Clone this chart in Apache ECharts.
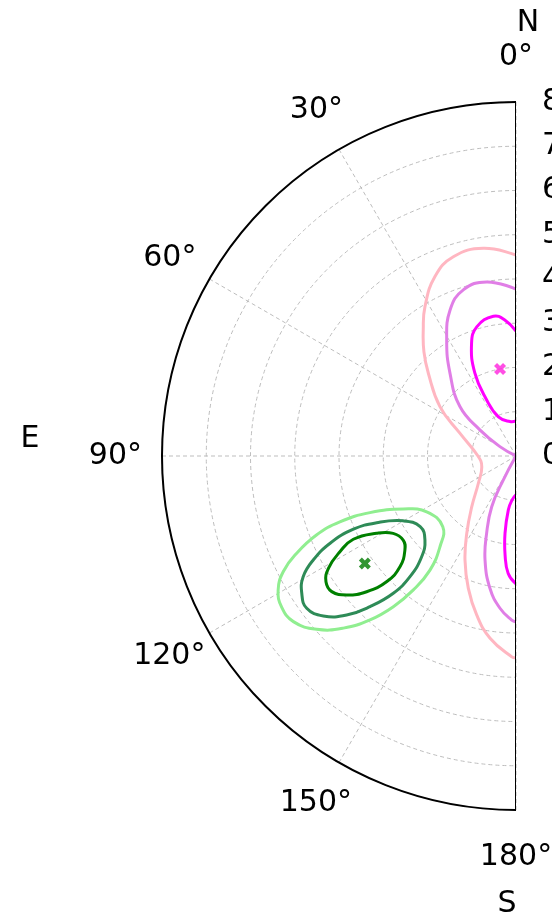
<!DOCTYPE html>
<html>
<head>
<meta charset="UTF-8">
<title>polar-contours</title>
<script src="https://cdn.jsdelivr.net/npm/echarts@6/dist/echarts.min.js"></script>
<style>
html, body { margin: 0; padding: 0; background: #fff; }
#main { width: 552px; height: 917px; }
</style>
</head>
<body>
<div id="main"></div>
<script>
// ticks
var angleTicks = [0, 30, 60, 90, 120, 150, 180];
var radiusMax = 8;

// contour lines, each point is [radius, angle in deg]
var pinkLine = [[4.54, 0], [4.75, 8.95], [4.72, 17.46], [4.45, 24.3], [3.95, 31.4], [3.54, 36.3], [3.14, 41.5],
  [2.72, 46.7], [2.05, 57.0], [1.37, 67.9], [0.86, 90.0], [0.81, 107.3], [1.05, 125.9],
  [1.52, 138.9], [2.07, 147.5], [2.62, 153.9], [3.18, 160.2], [3.70, 166.1], [4.16, 171.9], [4.54, 178.8], [4.56, 180]];
var violetTop = [[3.77, 0], [3.99, 9.54], [3.94, 17.6], [3.62, 24.3], [3.05, 30.9], [2.39, 38.6], [1.69, 48.6],
  [1.00, 54.2], [0.42, 59.8], [0, 60]];
var violetBottom = [[0, 150], [0.61, 152.1], [1.27, 154.4], [1.87, 159.2], [2.45, 163.4], [3.05, 168.9],
  [3.46, 174.0], [3.71, 178.5], [3.75, 180]];
var magentaTop = [[2.82, 0], [3.08, 4.6], [3.20, 9.2], [3.05, 16.9], [2.74, 21.5], [2.09, 26.4], [1.43, 27.6],
  [0.97, 24.2], [0.79, 9.9], [0.79, 0]];
var magentaBottom = [[0.88, 180], [1.0, 174.8], [1.23, 171.9], [1.76, 171.9], [2.25, 173.7], [2.66, 176.2], [2.89, 180]];
// closed loops (first point not repeated)
var greenOuter = [[3.54, 111.2], [2.81, 115.2], [2.38, 122.0], [2.30, 134.0], [2.67, 140.0], [3.23, 143.0],
  [3.82, 142.5], [4.39, 140.85], [4.96, 138.3], [5.51, 134.9], [5.97, 131.0], [6.27, 126.65], [6.30, 122.75],
  [6.17, 119.4], [5.87, 116.4], [5.42, 113.9], [4.85, 111.6], [4.25, 110.5]];
var greenMid = [[4.03, 114.25], [3.49, 115.6], [2.94, 119.9], [2.69, 126.4], [2.80, 132.7], [3.12, 136.9],
  [3.63, 138.7], [4.16, 138.2], [4.74, 135.9], [5.25, 133.2], [5.66, 129.7], [5.85, 126.05], [5.75, 122.65],
  [5.53, 119.57], [5.15, 117.16], [4.64, 115.14]];
var greenInner = [[4.13, 117.1], [3.60, 119.0], [3.28, 122.2], [3.18, 126.7], [3.29, 130.26], [3.62, 133.66],
  [4.07, 134.2], [4.56, 132.27], [4.95, 129.4], [5.17, 126.36], [5.15, 123.5], [4.94, 120.9], [4.53, 118.54]];

// peaks
var magentaPeak = [[2.0, 10.4]];
var greenPeak = [[4.19, 125.4]];

// frame edge along 0 and 180 deg
var frame = [[radiusMax, 0], [0, 0], [radiusMax, 180]];

var font = 'DejaVu Sans';
var xMark = 'path://M0,2.5 L2.5,0 L5,2.5 L7.5,0 L10,2.5 L7.5,5 L10,7.5 L7.5,10 L5,7.5 L2.5,10 L0,7.5 L2.5,5 Z';

// one smooth curve per contour, points go through the polar coord system
function contour(data, color, closed) {
  return {
    type: 'custom', coordinateSystem: 'polar', data: data, silent: true,
    renderItem: function (params, api) {
      if (params.dataIndex !== 0) return null;
      var pts = data.map(function (d) { return api.coord(d); });
      var cs = params.coordSys;
      return {
        type: closed ? 'polygon' : 'polyline',
        shape: { points: pts, smooth: 0.45 },
        style: { fill: 'none', stroke: color, lineWidth: 3 },
        clipPath: {
          type: 'rect',
          shape: { x: cs.cx - cs.r - 5, y: cs.cy - cs.r - 5, width: cs.r + 5, height: 2 * cs.r + 10 }
        }
      };
    }
  };
}

// angle tick labels are centred on a ring just outside the frame
function tickStyle(pad) {
  return { fontSize: 30, fontFamily: font, lineHeight: 30, padding: pad };
}

var myChart = echarts.init(document.getElementById('main'));
var option = {
  animation: false,
  polar: { center: [516, 456], radius: 354 },
  angleAxis: {
    type: 'value', min: 0, max: 180, interval: 30,
    startAngle: 90, endAngle: 270, clockwise: false,
    axisLine: { lineStyle: { color: '#000', width: 2 } },
    axisTick: { show: false },
    splitLine: { lineStyle: { color: '#bdbdbd', width: 1, type: [4, 3] } },
    axisLabel: {
      margin: -30, color: '#000', fontSize: 30, fontFamily: font,
      formatter: function (v) { return '{a' + v + '|' + v + '°}'; },
      rich: {
        a0: tickStyle([0, 0, 120, 0]),
        a30: tickStyle([0, 11, 100, 0]),
        a60: tickStyle([0, 39, 42, 0]),
        a90: tickStyle([0, 50, 0, 0]),
        a120: tickStyle([46, 30, 0, 0]),
        a150: tickStyle([104, 2, 0, 0]),
        a180: tickStyle([124, 0, 0, 0])
      }
    }
  },
  radiusAxis: {
    min: 0, max: radiusMax, interval: 1,
    axisLine: { show: false },
    axisTick: { show: false },
    splitLine: { lineStyle: { color: '#bdbdbd', width: 1, type: [4, 3] } },
    axisLabel: { margin: -26, align: 'left', color: '#000', fontSize: 30, fontFamily: font }
  },
  graphic: [
    { type: 'text', style: { x: 528, y: 23, text: 'N', fontSize: 30, fontFamily: font, fill: '#000', align: 'center', verticalAlign: 'middle' } },
    { type: 'text', style: { x: 30, y: 439, text: 'E', fontSize: 30, fontFamily: font, fill: '#000', align: 'center', verticalAlign: 'middle' } },
    { type: 'text', style: { x: 507, y: 904, text: 'S', fontSize: 30, fontFamily: font, fill: '#000', align: 'center', verticalAlign: 'middle' } }
  ],
  series: [
    contour(pinkLine, '#ffb6c1'),
    contour(violetTop, '#e07ee6'),
    contour(violetBottom, '#e07ee6'),
    contour(magentaTop, '#ff00ff'),
    contour(magentaBottom, '#ff00ff'),
    contour(greenOuter, '#90ee90', true),
    contour(greenMid, '#2e8b57', true),
    contour(greenInner, '#008000', true),
    {
      type: 'scatter', coordinateSystem: 'polar', data: magentaPeak,
      symbol: xMark, symbolSize: 12, itemStyle: { color: '#ff22dd' }, z: 5
    },
    {
      type: 'scatter', coordinateSystem: 'polar', data: greenPeak,
      symbol: xMark, symbolSize: 12, itemStyle: { color: '#007a00' }, z: 5
    },
    {
      type: 'line', coordinateSystem: 'polar', data: frame, clip: false,
      symbol: 'none', silent: true, z: 6,
      lineStyle: { color: '#000', width: 2 }
    }
  ]
};
myChart.setOption(option);
</script>
</body>
</html>
